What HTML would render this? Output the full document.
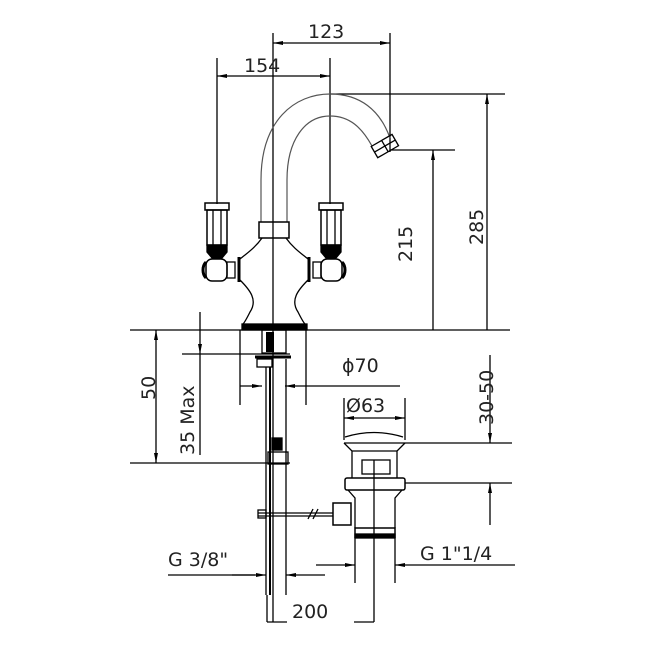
<!DOCTYPE html>
<html><head><style>body{margin:0;background:#fff}svg{display:block}text{font-family:"DejaVu Sans","Liberation Sans",sans-serif;fill:#222}</style></head>
<body>
<svg width="649" height="649" viewBox="0 0 649 649" xmlns="http://www.w3.org/2000/svg">
<defs>
<marker id="a" viewBox="0 0 10 4" refX="10" refY="2" markerWidth="10" markerHeight="4" orient="auto-start-reverse" markerUnits="userSpaceOnUse"><path d="M0,0L10,2L0,4z" fill="#000"/></marker>
</defs>
<g stroke="#000" stroke-width="1.3" fill="none">
<!-- top dims -->
<line x1="273" y1="33" x2="273" y2="622"/>
<line x1="390" y1="33" x2="390" y2="152"/>
<line x1="273" y1="43" x2="390" y2="43" marker-start="url(#a)" marker-end="url(#a)"/>
<line x1="217" y1="58" x2="217" y2="204"/>
<line x1="330" y1="58" x2="330" y2="204"/>
<line x1="217" y1="76" x2="330" y2="76" marker-start="url(#a)" marker-end="url(#a)"/>
<line x1="330" y1="94" x2="505" y2="94"/>
<line x1="487" y1="94" x2="487" y2="330" marker-start="url(#a)"/>
<line x1="390" y1="150" x2="455" y2="150"/>
<line x1="433" y1="150" x2="433" y2="330" marker-start="url(#a)"/>
<line x1="130" y1="330" x2="510" y2="330"/>
<!-- spout -->
<path d="M261,222 V180 C261,120 295,94 330,94 C360,94 380,110 390,138" stroke="#555" stroke-width="1.2"/>
<path d="M287,222 V180 C287,140 305,116 330,116 C350,116 362,128 372,146" stroke="#555" stroke-width="1.2"/>
<g transform="rotate(-30 386 146)"><rect x="373" y="139" width="24" height="13"/><line x1="373" y1="145.5" x2="397" y2="145.5"/><line x1="385" y1="139" x2="385" y2="152"/></g>
<rect x="259" y="222" width="30" height="16" stroke-width="1.5"/>
<!-- body -->
<path d="M262,238 C255,248 246,254 240,259 M240,280 C250,290 258,300 250,312 C247,318 245,322 243,324"/>
<path d="M286,238 C293,248 302,254 308,259 M308,280 C298,290 290,300 298,312 C301,318 303,322 305,324"/>
<rect x="242" y="324" width="65" height="6" fill="#000"/>
<!-- left handle -->
<rect x="205" y="203" width="24" height="7" stroke-width="1.5"/>
<rect x="207" y="210" width="20" height="35" stroke-width="1.5"/>
<line x1="213" y1="210" x2="213" y2="245"/><line x1="221" y1="210" x2="221" y2="245"/>
<path d="M207,245 H227 V252 L222,258 H212 L207,252 Z" fill="#000"/>
<rect x="206" y="259" width="21" height="22" rx="6" stroke-width="1.5"/>
<path d="M206,262 C202,266 202,274 206,278" stroke-width="3"/>
<rect x="227" y="262" width="8" height="16"/>
<line x1="239" y1="257" x2="239" y2="282" stroke-width="3"/>
<!-- right handle -->
<rect x="319" y="203" width="24" height="7" stroke-width="1.5"/>
<rect x="321" y="210" width="20" height="35" stroke-width="1.5"/>
<line x1="327" y1="210" x2="327" y2="245"/><line x1="335" y1="210" x2="335" y2="245"/>
<path d="M321,245 H341 V252 L336,258 H326 L321,252 Z" fill="#000"/>
<rect x="321" y="259" width="21" height="22" rx="6" stroke-width="1.5"/>
<path d="M342,262 C346,266 346,274 342,278" stroke-width="3"/>
<rect x="313" y="262" width="8" height="16"/>
<line x1="309" y1="257" x2="309" y2="282" stroke-width="3"/>
<!-- under base -->
<rect x="262" y="330" width="24" height="23"/>
<rect x="266" y="332" width="8" height="20" fill="#000" stroke="none"/>
<line x1="255" y1="357" x2="291" y2="357" stroke-width="3"/>
<rect x="257" y="359" width="15" height="8"/>
<line x1="266" y1="367" x2="266" y2="595"/><line x1="270" y1="367" x2="270" y2="595" stroke-width="2"/>
<line x1="286" y1="359" x2="286" y2="595"/>
<rect x="272" y="438" width="10" height="12" fill="#000"/>
<rect x="268" y="452" width="20" height="12"/>
<!-- 50, 35 max -->
<line x1="130" y1="463" x2="290" y2="463"/>
<line x1="156" y1="330" x2="156" y2="463" marker-start="url(#a)" marker-end="url(#a)"/>
<line x1="182" y1="354" x2="290" y2="354"/>
<line x1="200" y1="312" x2="200" y2="354" marker-end="url(#a)"/>
<line x1="200" y1="354" x2="200" y2="455"/>
<!-- phi70 -->
<line x1="240" y1="330" x2="240" y2="405"/><line x1="306" y1="330" x2="306" y2="405"/>
<line x1="240" y1="386" x2="262" y2="386" marker-end="url(#a)"/>
<line x1="285" y1="386" x2="400" y2="386" marker-start="url(#a)"/>
<!-- drain -->
<line x1="344" y1="398" x2="344" y2="440"/><line x1="405" y1="398" x2="405" y2="440"/>
<line x1="344" y1="418" x2="405" y2="418" marker-start="url(#a)" marker-end="url(#a)"/>
<path d="M345,437 Q374,428 403,437" />
<line x1="344" y1="443" x2="512" y2="443"/>
<path d="M344,443 L352,451 V478 M405,443 L397,451 V478"/>
<line x1="352" y1="451" x2="397" y2="451"/>
<rect x="362" y="460" width="28" height="14"/>
<rect x="345" y="478" width="60" height="12" rx="2" stroke-width="1.5"/>
<line x1="405" y1="483" x2="512" y2="483"/>
<path d="M348,490 L355,498 V528 M402,490 L395,498 V528"/>
<rect x="355" y="528" width="40" height="9" fill="#fff" stroke-width="1.5"/>
<rect x="355" y="534" width="40" height="4" fill="#000"/>
<line x1="374" y1="460" x2="374" y2="622"/>
<line x1="355" y1="537" x2="355" y2="583"/><line x1="395" y1="537" x2="395" y2="583"/>
<line x1="490" y1="355" x2="490" y2="443" marker-end="url(#a)"/>
<line x1="490" y1="483" x2="490" y2="525" marker-start="url(#a)"/>
<!-- rod to drain -->
<line x1="258" y1="513" x2="333" y2="513"/><line x1="258" y1="516" x2="333" y2="516"/>
<rect x="258" y="510" width="8" height="8"/>
<path d="M308,519 L313,509 M313,519 L318,509" />
<rect x="333" y="503" width="18" height="22" stroke-width="1.5"/>
<!-- G dims -->
<line x1="168" y1="575" x2="255" y2="575"/>
<line x1="232" y1="575" x2="266" y2="575" marker-end="url(#a)"/>
<line x1="286" y1="575" x2="325" y2="575" marker-start="url(#a)"/>
<line x1="316" y1="565" x2="355" y2="565" marker-end="url(#a)"/>
<line x1="395" y1="565" x2="515" y2="565" marker-start="url(#a)"/>
<!-- 200 -->
<line x1="267" y1="595" x2="267" y2="622"/>
<line x1="267" y1="622" x2="287" y2="622"/><line x1="354" y1="622" x2="374" y2="622"/>
</g>
<g font-size="19">
<text x="308" y="38">123</text>
<text x="244" y="72">154</text>
<text x="342" y="372">ϕ70</text>
<text x="346" y="412">Ø63</text>
<text x="168" y="566">G 3/8"</text>
<text x="420" y="560">G 1"1/4</text>
<text x="292" y="618">200</text>
<text transform="translate(483,245) rotate(-90)">285</text>
<text transform="translate(412,262) rotate(-90)">215</text>
<text transform="translate(155,400) rotate(-90)">50</text>
<text transform="translate(194,455) rotate(-90)">35 Max</text>
<text transform="translate(493,425) rotate(-90)">30-50</text>
</g>
</svg>
</body></html>
